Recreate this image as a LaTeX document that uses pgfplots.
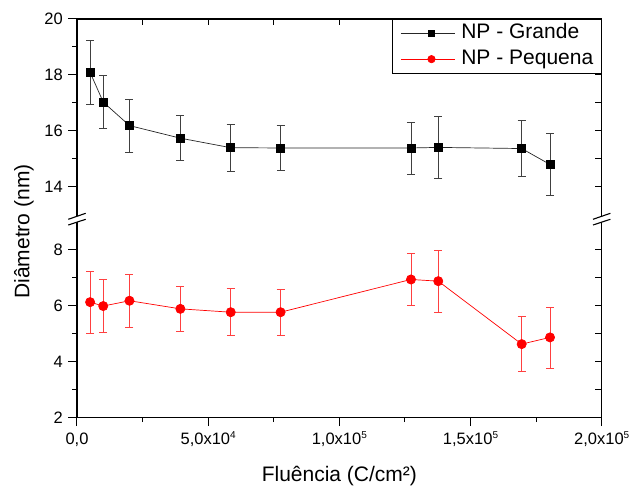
\documentclass[border=0pt]{standalone}
\usepackage{fontspec}
\setmainfont{Liberation Sans}
\usepackage{pgfplots}
\pgfplotsset{compat=1.18}
\usepackage{pgfplotstable}

\pgfplotstableread{
x y e
5000 18.09 1.15
10000 17.03 0.94
20000 16.19 0.95
39400 15.74 0.80
58600 15.40 0.84
77600 15.39 0.80
127300 15.39 0.93
137700 15.41 1.10
169500 15.37 0.99
180300 14.80 1.10
}\grande

\pgfplotstableread{
x y e
5000 6.13 1.10
10000 5.99 0.94
20000 6.18 0.96
39400 5.89 0.80
58600 5.77 0.84
77600 5.77 0.81
127300 6.94 0.94
137700 6.88 1.10
169500 4.63 0.99
180300 4.87 1.09
}\pequena

\newcommand\sups[1]{\raisebox{0.38em}{\fontsize{10}{10}\selectfont #1}}

\pgfplotsset{
  commonax/.style={
    at={(77pt,68.3pt)}, anchor=south west,
    scale only axis, width=524.7pt, height=398.7pt,
    xmin=0, xmax=200000, ymin=2, ymax=16.25,
    scaled x ticks=false, scaled y ticks=false,
    xtick={0,50000,100000,150000,200000},
    minor xtick={25000,75000,125000,175000},
    ytick={2,4,6,8,10.25,12.25,14.25,16.25},
    minor ytick={3,5,7,11.25,13.25,15.25},
    axis line style={line width=1.1pt},
    tick style={line width=1pt, black},
  }
}

\begin{document}
\begin{tikzpicture}
\useasboundingbox (0,0) rectangle (632pt,486pt);
% top/right inward ticks
\begin{axis}[commonax,
  xticklabels={}, yticklabels={},
  xtick pos=top, ytick pos=right, tick align=inside,
  major tick length=6.5pt, minor tick length=6.5pt,
]
\end{axis}
% main axis
\begin{axis}[commonax,
  xtick pos=bottom, ytick pos=left, tick align=outside,
  major tick length=8.5pt, minor tick length=4.5pt,
  xticklabels={{0,0},{5,0x10\sups{4}},{1,0x10\sups{5}},{1,5x10\sups{5}},{2,0x10\sups{5}}},
  yticklabels={2,4,6,8,14,16,18,20},
  /pgf/number format/assume math mode=true,
  tick label style={font=\fontsize{16.5}{18}\selectfont},
  xticklabel style={anchor=base, yshift=-18.8pt},
  yticklabel style={anchor=east, inner sep=0pt, xshift=-5.5pt},
  xlabel={Fluência (C/cm²)},
  xlabel style={at={(axis description cs:0.5,0)}, anchor=center, yshift=-58.3pt, font=\fontsize{21}{24}\selectfont},
  ylabel={Diâmetro (nm)},
  ylabel style={at={(axis description cs:-0.101,0.467)}, anchor=center, font=\fontsize{21}{24}\selectfont},
  legend style={at={(rel axis cs:1,1)}, anchor=north east, draw=black, line width=0.9pt,
    fill=white, font=\fontsize{21}{24}\selectfont,
    inner xsep=8pt, inner ysep=3.5pt, row sep=4.7pt, column sep=6pt,
    nodes={inner sep=0pt, text height=16pt, text depth=5pt}},
  legend cell align=left,
  legend image post style={every mark/.append style={scale=0.8}},
  legend image code/.code={\path (0pt,0pt) -- (7pt,0pt);
    \draw[mark repeat=2,mark phase=2,#1] plot coordinates {(7pt,0pt) (30.5pt,0pt) (54pt,0pt)};},
]
\addplot[black!85, line width=0.7pt, mark=square*, mark size=4.1pt,
  mark options={solid, fill=black, draw=black},
  error bars/.cd, y dir=both, y explicit,
  error bar style={line width=0.7pt, black!75},
  error mark options={rotate=90, line width=0.7pt, mark size=4pt, black!75}]
  table[x=x, y expr=\thisrow{y}-3.75, y error=e] {\grande};
\addlegendentry{NP - Grande}
\addplot[red, line width=0.7pt, mark=*, mark size=4.6pt,
  mark options={solid, fill=red, draw=red},
  error bars/.cd, y dir=both, y explicit,
  error bar style={line width=0.7pt, red!75},
  error mark options={rotate=90, line width=0.7pt, mark size=4pt, red!75}]
  table[x=x, y=y, y error=e] {\pequena};
\addlegendentry{NP - Pequena}
\end{axis}
% axis break marks
\foreach \bx in {0pt,524.7pt}{
  \begin{scope}[xshift=\bx]
    \fill[white] (68.3pt,261pt) -- (85.7pt,266.7pt) -- (85.7pt,272.7pt) -- (68.3pt,266.7pt) -- cycle;
    \draw[line width=1.1pt] (68.3pt,261pt) -- (85.7pt,266.7pt);
    \draw[line width=1.1pt] (68.3pt,266.7pt) -- (85.7pt,272.7pt);
  \end{scope}
}
\end{tikzpicture}
\end{document}
